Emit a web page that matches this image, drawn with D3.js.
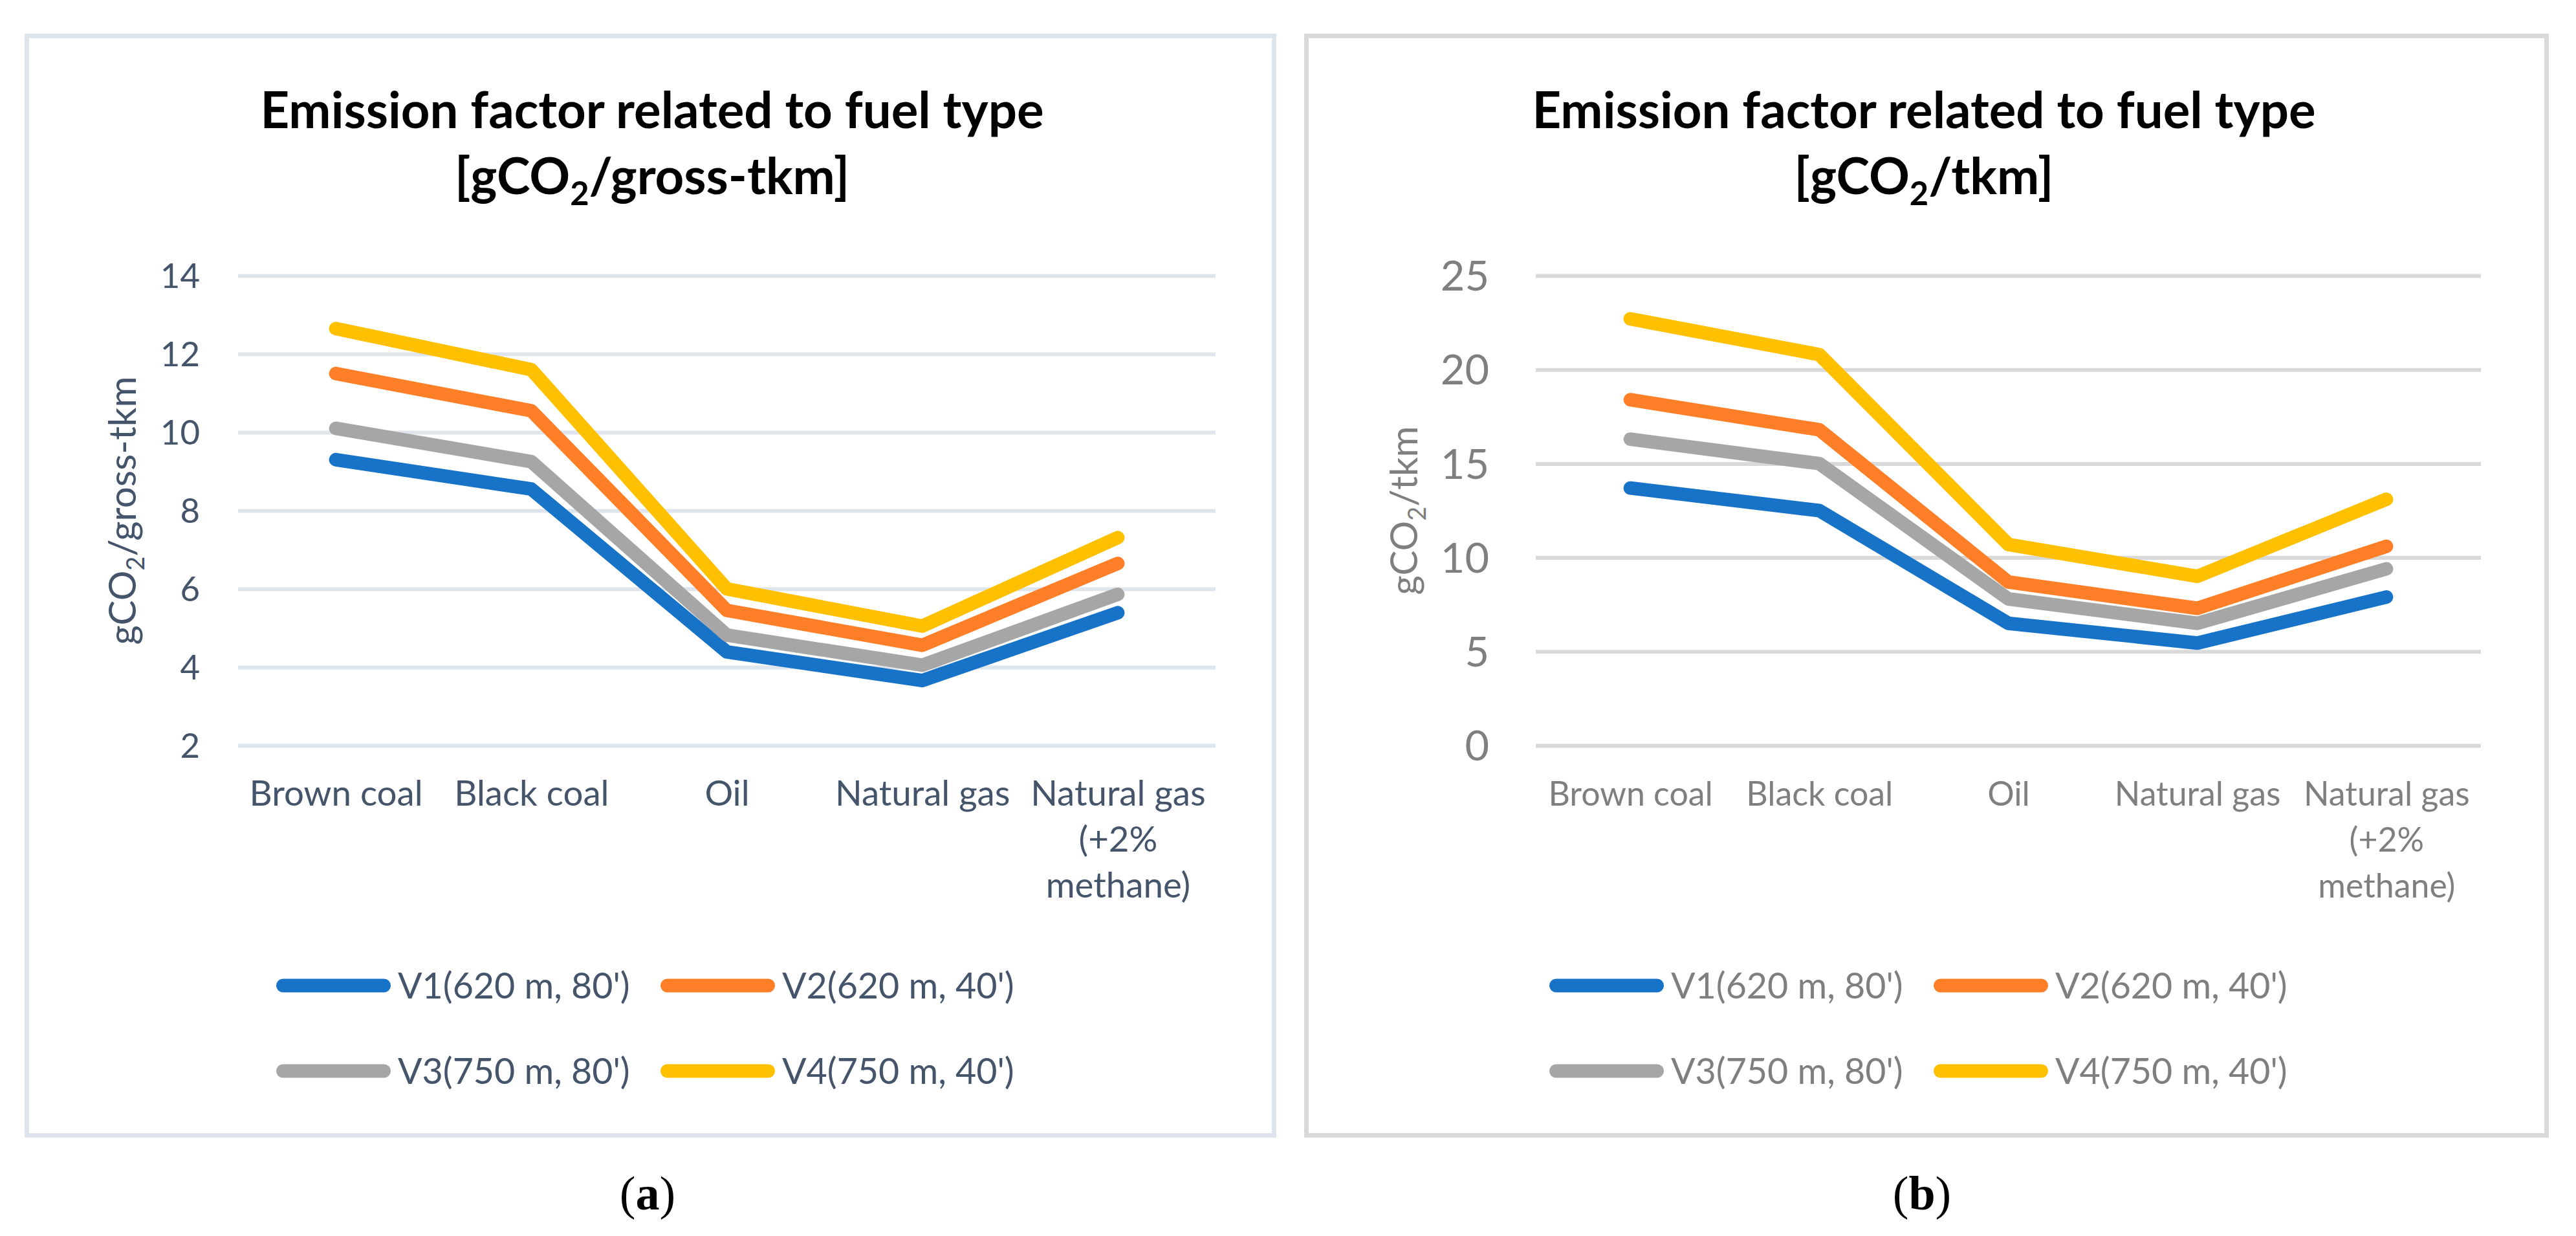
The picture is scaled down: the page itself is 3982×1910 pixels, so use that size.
<!DOCTYPE html>
<html>
<head>
<meta charset="utf-8">
<script src="https://cdn.jsdelivr.net/npm/d3@7"></script>
<style>
  html, body { margin: 0; padding: 0; background: #fff; }
  svg { display: block; }
</style>
</head>
<body>
<div id="chart"></div>
<script>
const W = 3982, H = 1910;
const FONT = "Lato, 'Noto Sans', sans-serif";

// categories and series
const categories = ["Brown coal", "Black coal", "Oil", "Natural gas", "Natural gas (+2% methane)"];
const categoryLines = [["Brown coal"], ["Black coal"], ["Oil"], ["Natural gas"], ["Natural gas", "(+2%", "methane)"]];
const seriesNames = ["V1(620 m, 80')", "V2(620 m, 40')", "V3(750 m, 80')", "V4(750 m, 40')"];
const seriesColors = ["#1773c8", "#fe7f27", "#a6a6a6", "#ffc000"];

// (a) gCO2/gross-tkm
const grossV1 = [9.3, 8.55, 4.39, 3.66, 5.39];
const grossV2 = [11.5, 10.55, 5.45, 4.56, 6.65];
const grossV3 = [10.1, 9.25, 4.82, 4.05, 5.86];
const grossV4 = [12.65, 11.6, 6.0, 5.05, 7.31];
const grossTicks = [2, 4, 6, 8, 10, 12, 14];

// (b) gCO2/tkm
const tkmV1 = [13.7, 12.5, 6.5, 5.45, 7.9];
const tkmV2 = [18.4, 16.8, 8.7, 7.3, 10.6];
const tkmV3 = [16.3, 15.0, 7.8, 6.5, 9.4];
const tkmV4 = [22.7, 20.8, 10.7, 9.0, 13.1];
const tkmTicks = [0, 5, 10, 15, 20, 25];

const svg = d3.select('#chart').append('svg')
    .attr('width', W)
    .attr('height', H);

// the reference was set in Calibri; scale our font so the widths come out alike
const measure = (txt, weight) => {
    const t = svg.append('text').attr('font-family', FONT).attr('font-size', 100)
        .attr('font-weight', weight).text(txt);
    const w = t.node().getComputedTextLength();
    t.remove();
    return w;
};
const kReg = 454.4 / measure("Brown coal", 400);
const kBold = 1459.4 / measure("Emission factor related to fuel type", 700);

const panels = [
    {
        unit: "gross-tkm", series: [grossV1, grossV2, grossV3, grossV4], ticks: grossTicks, domain: [2, 14],
        frame: [38, 52, 1973, 1758], frameColor: "#dde4ec", grid: "#dfe5ec", text: "#44546a",
        plotX: [368, 1879], tickPad: 59, tickSize: 57, catSize: 59, yTitleX: 210,
        titleX: 1008, legendX: [427, 1021], caption: "a", captionX: 1001
    },
    {
        unit: "tkm", series: [tkmV1, tkmV2, tkmV3, tkmV4], ticks: tkmTicks, domain: [0, 25],
        frame: [2016, 52, 3940, 1758], frameColor: "#d9d9d9", grid: "#d9d9d9", text: "#7f7f7f",
        plotX: [2374, 3835], tickPad: 72, tickSize: 70, catSize: 56, yTitleX: 2191,
        titleX: 2974, legendX: [2395, 2989], caption: "b", captionX: 2971
    }
];

const plotTop = 426, plotBottom = 1152;

// text with a subscript 2 in "CO2"
const co2Text = (sel, before, after, size) => {
    sel.append('tspan').text(before + "gCO");
    sel.append('tspan').attr('font-size', size * 0.65).attr('dy', size * 0.22).text("2");
    sel.append('tspan').attr('dy', -size * 0.22).text(after);
};

panels.forEach(p => {
    const g = svg.append('g');
    const [fx0, fy0, fx1, fy1] = p.frame;

    // Frame
    g.append('rect')
        .attr('x', fx0 + 3.5).attr('y', fy0 + 3.5)
        .attr('width', fx1 - fx0 - 7).attr('height', fy1 - fy0 - 7)
        .attr('fill', '#fff').attr('stroke', p.frameColor).attr('stroke-width', 7);

    // Title
    const titleSize = 83 * kBold;
    g.append('text')
        .attr('x', p.titleX).attr('y', 198)
        .attr('text-anchor', 'middle').attr('font-family', FONT).attr('font-weight', 700)
        .attr('font-size', titleSize).attr('fill', '#000')
        .text("Emission factor related to fuel type");
    const t2 = g.append('text')
        .attr('x', p.titleX).attr('y', 300)
        .attr('text-anchor', 'middle').attr('font-family', FONT).attr('font-weight', 700)
        .attr('font-size', titleSize).attr('fill', '#000');
    co2Text(t2, "[", "/" + p.unit + "]", titleSize);

    // Scales
    const x = d3.scalePoint().domain(categories).range(p.plotX).padding(0.5);
    const y = d3.scaleLinear().domain(p.domain).range([plotBottom, plotTop]);
    const plotW = p.plotX[1] - p.plotX[0];

    // Y axis with gridlines
    const yAxis = g.append('g')
        .attr('transform', `translate(${p.plotX[0]},0)`)
        .call(d3.axisLeft(y).tickValues(p.ticks).tickSizeInner(-plotW).tickSizeOuter(0).tickPadding(p.tickPad));
    yAxis.select('.domain').remove();
    yAxis.selectAll('.tick line').attr('stroke', p.grid).attr('stroke-width', 6);
    yAxis.selectAll('.tick text')
        .attr('font-family', FONT).attr('font-size', p.tickSize * kReg).attr('fill', p.text)
        .attr('dy', '0.35em');

    // X axis labels
    const xAxis = g.append('g')
        .attr('transform', `translate(0,${plotBottom})`)
        .call(d3.axisBottom(x).tickSize(0).tickPadding(0));
    xAxis.select('.domain').remove();
    xAxis.selectAll('.tick text')
        .attr('font-family', FONT).attr('font-size', p.catSize * kReg).attr('fill', p.text)
        .attr('y', 93).attr('dy', 0)
        .text(null)
        .each(function (d, i) {
            const lines = categoryLines[categories.indexOf(d)];
            d3.select(this).selectAll('tspan').data(lines).join('tspan')
                .attr('x', 0).attr('dy', (l, j) => j === 0 ? 0 : 71)
                .text(l => l);
        });

    // Y axis title
    const yTitleSize = 63 * kReg;
    const yt = g.append('text')
        .attr('transform', `translate(${p.yTitleX},${(plotTop + plotBottom) / 2}) rotate(-90)`)
        .attr('text-anchor', 'middle').attr('font-family', FONT)
        .attr('font-size', yTitleSize).attr('fill', p.text);
    co2Text(yt, "", "/" + p.unit, yTitleSize);

    // Lines
    const line = d3.line()
        .x((d, i) => x(categories[i]))
        .y(d => y(d));
    p.series.forEach((s, i) => {
        g.append('path')
            .datum(s)
            .attr('d', line)
            .attr('fill', 'none')
            .attr('stroke', seriesColors[i])
            .attr('stroke-width', 21)
            .attr('stroke-linecap', 'round')
            .attr('stroke-linejoin', 'round');
    });

    // Legend, 2 x 2
    const legendRows = [1523, 1655];
    seriesNames.forEach((name, i) => {
        const lx = p.legendX[i % 2];
        const ly = legendRows[Math.floor(i / 2)];
        g.append('line')
            .attr('x1', lx + 10.5).attr('x2', lx + 177 - 10.5)
            .attr('y1', ly).attr('y2', ly)
            .attr('stroke', seriesColors[i]).attr('stroke-width', 21)
            .attr('stroke-linecap', 'round');
        g.append('text')
            .attr('x', lx + 188).attr('y', ly + 20)
            .attr('font-family', FONT).attr('font-size', 60 * kReg).attr('fill', p.text)
            .text(name);
    });

    // Caption (a) / (b)
    const cap = svg.append('text')
        .attr('x', p.captionX).attr('y', 1869)
        .attr('text-anchor', 'middle')
        .attr('font-family', "'Liberation Serif', 'DejaVu Serif', serif")
        .attr('font-size', 74).attr('fill', '#000');
    cap.append('tspan').text("(");
    cap.append('tspan').attr('font-weight', 700).text(p.caption);
    cap.append('tspan').text(")");
});
</script>
</body>
</html>
